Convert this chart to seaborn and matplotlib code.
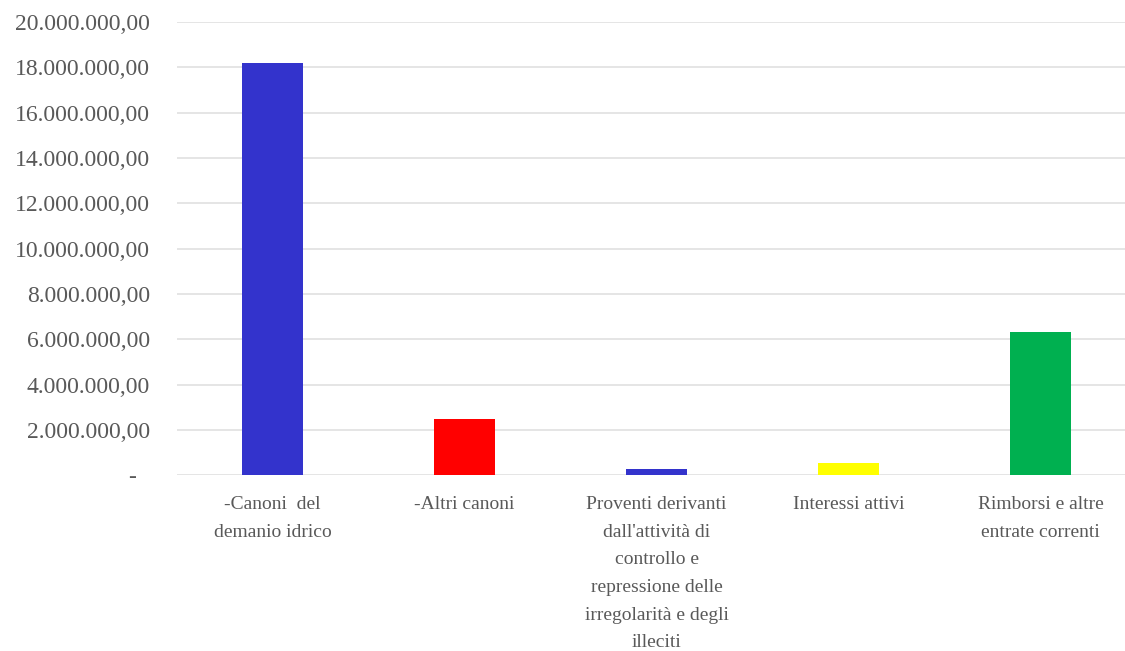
import matplotlib
matplotlib.use("Agg")
import matplotlib.pyplot as plt
import matplotlib.transforms as mtransforms
import seaborn as sns
import pandas as pd

# Entrate correnti per voce (euro)
categories = [
    "-Canoni  del\ndemanio idrico",
    "-Altri canoni",
    "Proventi derivanti\ndall'attività di\ncontrollo e\nrepressione delle\nirregolarità e degli\nilleciti",
    "Interessi attivi",
    "Rimborsi e altre\nentrate correnti",
]
values = [18_180_000, 2_470_000, 280_000, 560_000, 6_310_000]
bar_colors = ["#3333CC", "#FF0000", "#3333CC", "#FFFF00", "#00B050"]
y_ticks = [0, 2_000_000, 4_000_000, 6_000_000, 8_000_000, 10_000_000,
           12_000_000, 14_000_000, 16_000_000, 18_000_000, 20_000_000]

sns.set_theme(style="white")
plt.rcParams["font.family"] = ["Liberation Serif", "DejaVu Serif"]

df = pd.DataFrame({"voce": categories, "importo": values})

fig = plt.figure(figsize=(11.25, 6.51), dpi=100)
ax = fig.add_axes([0.157, 0.270, 0.843, 0.696])

sns.barplot(data=df, x="voce", y="importo", hue="voce",
            palette=bar_colors, legend=False, width=0.32,
            linewidth=0, saturation=1, ax=ax)

ax.set_xlim(-0.5, 4.44)
ax.set_ylim(0, 20_000_000)
ax.set_yticks(y_ticks)


def it_fmt(v):
    if v == 0:
        return "-"
    s = f"{v:,.2f}"
    return s.replace(",", "X").replace(".", ",").replace("X", ".")


ax.set_yticklabels([it_fmt(v) for v in y_ticks])
ax.set_xlabel("")
ax.set_ylabel("")

ax.yaxis.grid(True, color="#dedede", linewidth=1.1)
ax.set_axisbelow(True)
for s in ax.spines.values():
    s.set_visible(False)

ax.tick_params(axis="y", length=0, pad=19, labelsize=17, labelcolor="#595959")
ax.tick_params(axis="x", length=0, pad=15, labelsize=14, labelcolor="#595959")
for lbl in ax.get_xticklabels():
    lbl.set_linespacing(1.82)

# the zero label sits a little left of the other values
zero_lbl = ax.get_yticklabels()[0]
zero_lbl.set_transform(zero_lbl.get_transform() +
                       mtransforms.ScaledTranslation(-10 / 72, 0, fig.dpi_scale_trans))

fig.savefig("out.png", dpi=100)
